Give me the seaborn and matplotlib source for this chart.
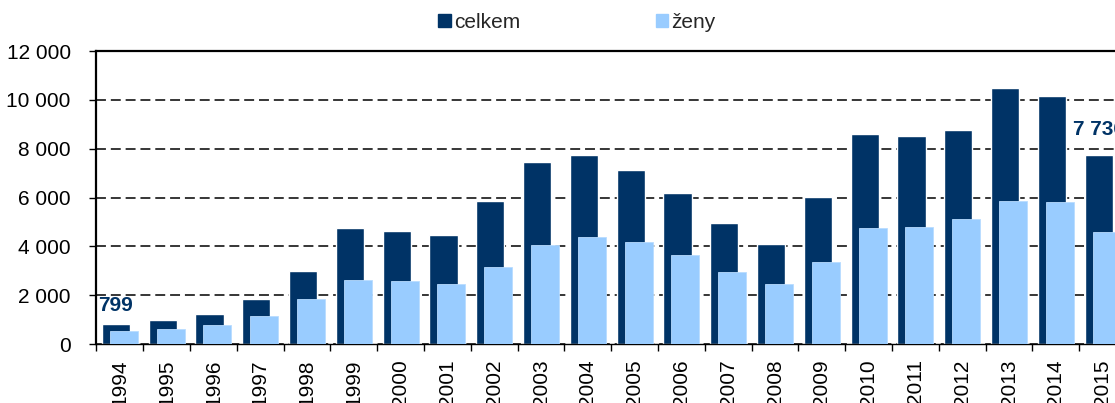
import matplotlib
matplotlib.use("Agg")
import matplotlib.pyplot as plt
import matplotlib.ticker as mticker
from matplotlib.patches import Patch
import seaborn as sns

years = ["1994", "1995", "1996", "1997", "1998", "1999", "2000", "2001", "2002",
         "2003", "2004", "2005", "2006", "2007", "2008", "2009", "2010", "2011",
         "2012", "2013", "2014", "2015"]
celkem = [799, 1000, 1230, 1830, 2980, 4750, 4640, 4480, 5850, 7470, 7760, 7130,
          6180, 4950, 4100, 6010, 8620, 8510, 8780, 10490, 10140, 7736]
zeny = [540, 630, 770, 1140, 1830, 2620, 2570, 2460, 3160, 4040, 4370, 4190,
        3630, 2960, 2460, 3370, 4740, 4800, 5110, 5850, 5810, 4590]
series_names = ["celkem", "ženy"]
labelled = {0: "799", 21: "7 736"}
label_offsets = {0: 390, 21: 665}

DARK = "#003366"
LIGHT = "#99CCFF"

sns.set_style("white")
plt.rcParams["font.family"] = ["Liberation Sans", "DejaVu Sans"]

fig = plt.figure(figsize=(11.15, 4.03), dpi=100)
ax = fig.add_axes([0.0865, 0.1464, 0.9234, 0.727])

shift = 0.085
sns.barplot(x=years, y=celkem, color=DARK, width=0.6, saturation=1, ax=ax, zorder=2)
n = len(years)
for p in ax.patches[:n]:
    p.set_x(p.get_x() - shift)
sns.barplot(x=years, y=zeny, color=LIGHT, width=0.6, saturation=1, ax=ax, zorder=3)
for p in ax.patches[n:2 * n]:
    p.set_x(p.get_x() + shift)
    p.set_edgecolor("#b8dcff")
    p.set_linewidth(0.6)

ax.set_xlim(-0.5, n - 0.5)
ax.set_ylim(0, 12000)
ax.set_yticks(range(0, 12001, 2000))
ax.yaxis.set_major_formatter(mticker.FuncFormatter(lambda v, _: f"{int(v):,}".replace(",", " ")))
ax.set_xlabel("")
ax.set_ylabel("")

ax.set_axisbelow(True)
ax.yaxis.grid(True, linestyle=(0, (6.5, 3.2)), color="black", linewidth=1.1, zorder=1)
ax.xaxis.grid(False)

for s in ["left", "top"]:
    ax.spines[s].set_visible(True)
    ax.spines[s].set_color("black")
    ax.spines[s].set_linewidth(1.6)
ax.spines["bottom"].set_color("black")
ax.spines["bottom"].set_linewidth(1.0)
ax.spines["right"].set_visible(False)

ax.tick_params(axis="y", which="major", left=True, length=5, width=1, pad=13.5,
               labelsize=15, colors="black", direction="out")
ax.set_xticks(range(n))
ax.set_xticklabels(years, rotation=90, ha="center", va="top")
ax.tick_params(axis="x", which="major", length=0, pad=11, labelsize=15, colors="black")
ax.xaxis.set_minor_locator(mticker.FixedLocator([i - 0.5 for i in range(n + 1)]))
ax.tick_params(axis="x", which="minor", bottom=True, length=5, width=1, color="black",
               direction="out")

for i, txt in labelled.items():
    ax.text(i - shift, celkem[i] + label_offsets[i], txt, ha="center", va="bottom",
            fontsize=15, fontweight="bold", color=DARK, zorder=5)

handles = [Patch(facecolor=DARK, edgecolor=DARK), Patch(facecolor=LIGHT, edgecolor=LIGHT)]
fig.legend(handles, series_names, loc="center", bbox_to_anchor=(0.5175, 0.945), ncol=2,
           frameon=False, fontsize=15, handlelength=0.6, handleheight=0.6,
           handletextpad=0.15, columnspacing=6.5)

fig.savefig("out.png", dpi=100)
